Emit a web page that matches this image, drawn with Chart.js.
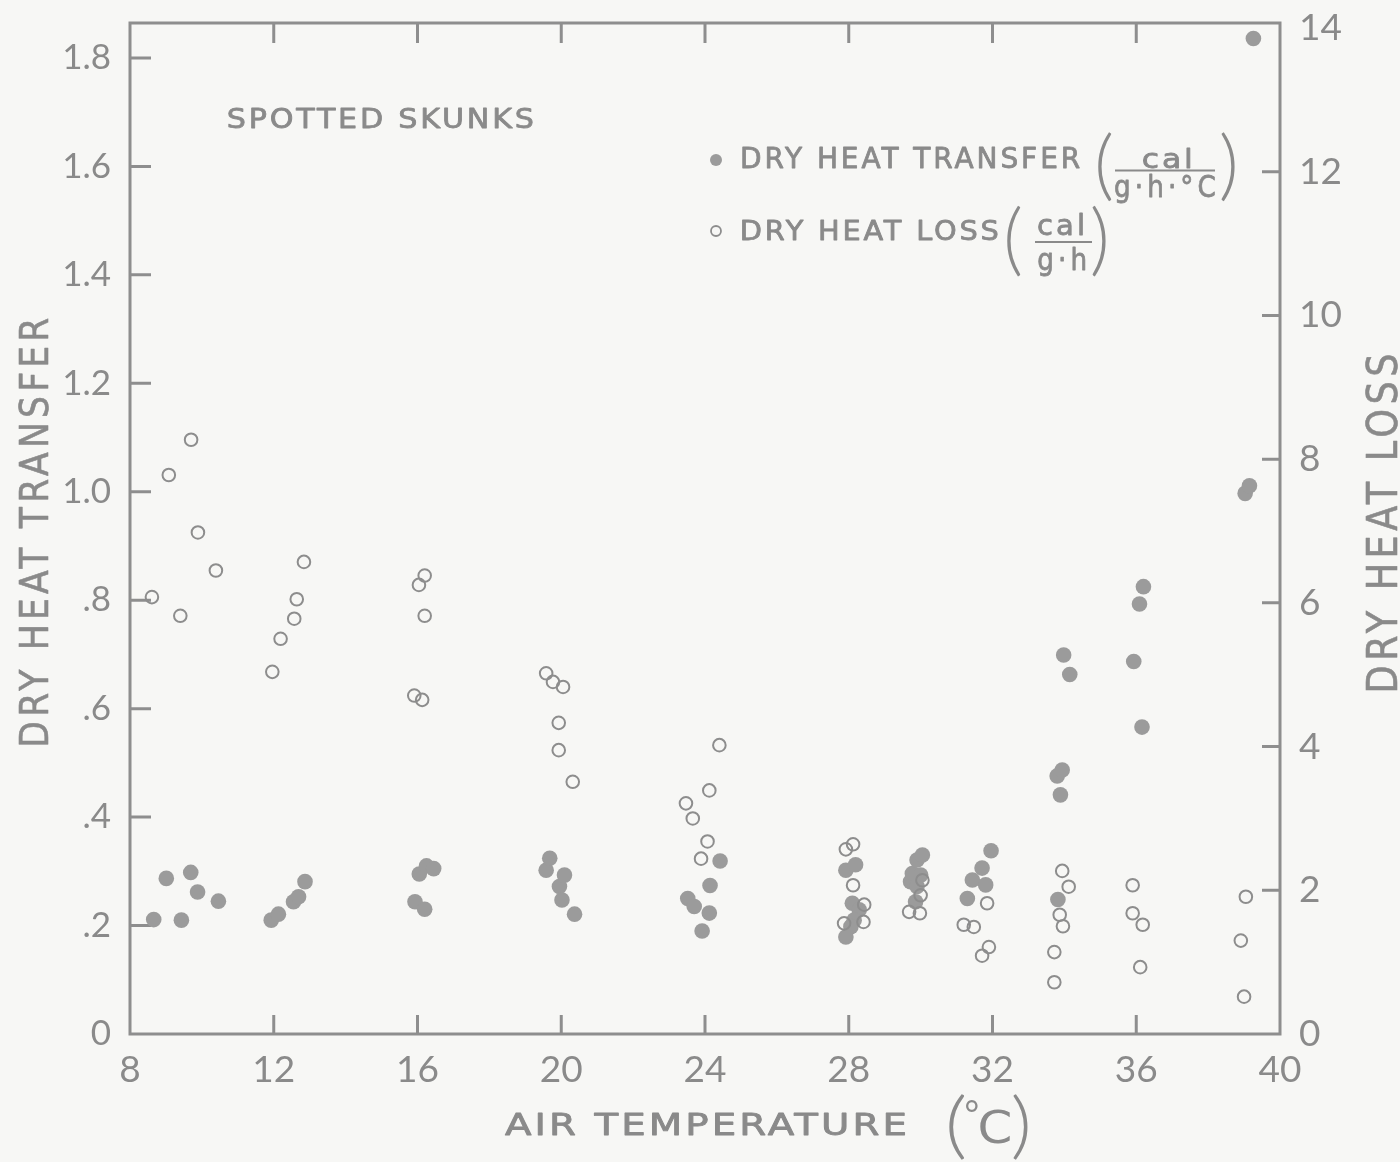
<!DOCTYPE html>
<html><head><meta charset="utf-8">
<script src="https://cdn.jsdelivr.net/npm/chart.js@4.4.1/dist/chart.umd.min.js"></script>
<style>html,body{margin:0;padding:0;background:#f7f7f5;}#wrap{width:1400px;height:1162px;position:relative;}</style>
</head><body><div id="wrap"><canvas id="c"></canvas></div>
<script>
// ---- data ----
const transferTemp = [8.66,9.01,9.43,9.69,9.88,10.46,11.93,12.13,12.55,12.69,12.87,15.93,16.2,16.05,16.25,16.45,
  19.58,19.68,19.95,20.02,20.09,20.37,23.52,23.7,23.92,24.12,24.14,24.42,27.92,28.19,28.1,28.29,28.15,28.06,27.92,
  29.72,29.77,29.86,29.9,29.9,30.0,30.05,31.3,31.44,31.71,31.81,31.96,33.8,33.82,33.89,33.94,33.98,34.15,
  35.93,36.09,36.16,36.2,39.03,39.15,39.26];
const transferValue = [0.211,0.287,0.210,0.298,0.262,0.245,0.210,0.221,0.244,0.253,0.281,0.244,0.230,0.295,0.310,0.305,
  0.302,0.324,0.272,0.247,0.293,0.221,0.250,0.235,0.190,0.223,0.274,0.319,0.302,0.312,0.241,0.229,0.210,0.198,0.179,
  0.281,0.296,0.244,0.272,0.321,0.293,0.330,0.250,0.284,0.306,0.275,0.338,0.476,0.248,0.441,0.487,0.699,0.663,
  0.687,0.793,0.566,0.825,0.997,1.011,1.836];
const lossTemp = [8.61,9.08,9.40,9.70,9.89,10.39,11.96,12.19,12.57,12.64,12.84,15.91,16.04,16.13,16.2,16.2,
  19.58,19.77,19.93,19.93,20.05,20.32,23.47,23.66,23.89,24.07,24.12,24.4,27.87,27.92,28.12,28.12,28.41,28.43,
  29.68,29.98,30.0,30.05,31.2,31.48,31.71,31.85,31.9,33.72,33.72,33.87,33.94,33.96,34.12,35.9,35.9,36.11,36.18,
  38.91,39.0,39.05];
const lossValue = [6.08,7.78,5.82,8.27,6.98,6.45,5.04,5.50,5.78,6.05,6.57,4.71,6.25,4.65,6.38,5.82,
  5.02,4.90,4.33,3.95,4.83,3.51,3.21,3.00,2.44,2.68,3.39,4.02,1.54,2.57,2.64,2.07,1.56,1.80,
  1.70,1.68,1.93,2.14,1.52,1.49,1.09,1.82,1.21,1.14,0.72,1.66,2.27,1.50,2.05,2.07,1.68,0.93,1.52,
  1.30,0.52,1.91];
const tempTicks = [8,12,16,20,24,28,32,36,40];
const transferTicks = [0,0.2,0.4,0.6,0.8,1.0,1.2,1.4,1.6,1.8];
const transferTickLabels = ['0','.2','.4','.6','.8','1.0','1.2','1.4','1.6','1.8'];
const lossTicks = [0,2,4,6,8,10,12,14];
const chartTitle = 'SPOTTED SKUNKS';
const xTitle = 'AIR TEMPERATURE';
const yTitle = 'DRY HEAT TRANSFER';
const y2Title = 'DRY HEAT LOSS';
const legendTransfer = 'DRY HEAT TRANSFER';
const legendLoss = 'DRY HEAT LOSS';

const FONT = 'Lato, "Open Sans", sans-serif';
const TFONT = '"DejaVu Sans", "Open Sans", sans-serif';
const TXT = '#8a8a8a', LINE = '#8e8e8e', DOT = '#9b9b9b', OPEN = '#8d8d8d';

function measureBox(ctx, text, weight, fam) {
  ctx.font = (weight || '') + ' 100px ' + (fam || TFONT);
  ctx.letterSpacing = '0px';
  return ctx.measureText(text);
}
// text with height fit to [yTop,yBottom]; width fit to [x0,x1] by a mild horizontal stretch plus tracking
function spacedBox(ctx, text, x0, x1, yTop, yBottom, weight, fam, thick) {
  fam = fam || TFONT;
  const m = measureBox(ctx, text, weight, fam);
  const h = m.actualBoundingBoxAscent + m.actualBoundingBoxDescent;
  const size = 100 * (yBottom - yTop) / h;
  ctx.font = (weight || '') + ' ' + size + 'px ' + fam;
  ctx.letterSpacing = '0px';
  const m2 = ctx.measureText(text);
  const w = m2.actualBoundingBoxLeft + m2.actualBoundingBoxRight;
  const n = Math.max(1, text.length - 1);
  const gap = 0.14 * (yBottom - yTop);
  let sx = (x1 - x0 - gap * n) / w;
  sx = Math.max(0.85, Math.min(1.4, sx));
  const ls = ((x1 - x0) / sx - w) / n;
  ctx.save();
  ctx.translate(x0, yTop + m2.actualBoundingBoxAscent);
  ctx.scale(sx, 1);
  ctx.letterSpacing = ls + 'px';
  ctx.textAlign = 'left';
  ctx.textBaseline = 'alphabetic';
  ctx.fillText(text, m2.actualBoundingBoxLeft, 0);
  ctx.strokeStyle = ctx.fillStyle;
  ctx.lineWidth = thick === undefined ? 0.8 : thick;
  ctx.lineJoin = 'round';
  if (ctx.lineWidth > 0) ctx.strokeText(text, m2.actualBoundingBoxLeft, 0);
  ctx.letterSpacing = '0px';
  ctx.restore();
}
// scale a short text to fill a box
function fitBox(ctx, text, x0, x1, yTop, yBottom, weight, fam) {
  const m = measureBox(ctx, text, weight, fam || FONT);
  const w = m.actualBoundingBoxLeft + m.actualBoundingBoxRight;
  const h = m.actualBoundingBoxAscent + m.actualBoundingBoxDescent;
  const sx = (x1 - x0) / w, sy = (yBottom - yTop) / h;
  ctx.save();
  ctx.translate(x0 + m.actualBoundingBoxLeft * sx, yTop + m.actualBoundingBoxAscent * sy);
  ctx.scale(sx, sy);
  ctx.textAlign = 'left'; ctx.textBaseline = 'alphabetic';
  ctx.fillText(text, 0, 0);
  ctx.restore();
}

const deco = {
  id: 'deco',
  beforeDatasetsDraw(chart) {
    const ctx = chart.ctx, a = chart.chartArea, sx = chart.scales.x, sy = chart.scales.y, sy2 = chart.scales.y2;
    ctx.save();
    ctx.strokeStyle = LINE; ctx.lineWidth = 3; ctx.lineCap = 'butt';
    ctx.strokeRect(a.left, a.top, a.right - a.left, a.bottom - a.top);
    ctx.beginPath();
    tempTicks.slice(1, -1).forEach(v => {
      const px = sx.getPixelForValue(v);
      ctx.moveTo(px, a.bottom); ctx.lineTo(px, a.bottom - 19);
      ctx.moveTo(px, a.top); ctx.lineTo(px, a.top + 20);
    });
    transferTicks.slice(1).forEach(v => {
      const py = sy.getPixelForValue(v);
      ctx.moveTo(a.left, py); ctx.lineTo(a.left + 21, py);
    });
    lossTicks.slice(1, -1).forEach(v => {
      const py = sy2.getPixelForValue(v);
      ctx.moveTo(a.right, py); ctx.lineTo(a.right - 18, py);
    });
    ctx.stroke();
    ctx.restore();
  },
  afterDraw(chart) {
    const ctx = chart.ctx;
    ctx.save();
    ctx.fillStyle = TXT;
    spacedBox(ctx, chartTitle, 228, 533, 108, 128);
    // legend
    ctx.beginPath(); ctx.arc(716, 160, 6, 0, Math.PI * 2); ctx.fillStyle = DOT; ctx.fill();
    ctx.beginPath(); ctx.arc(716, 231, 5, 0, Math.PI * 2); ctx.strokeStyle = OPEN; ctx.lineWidth = 1.8; ctx.stroke();
    ctx.fillStyle = TXT;
    spacedBox(ctx, legendTransfer, 742, 1080, 147, 168);
    spacedBox(ctx, legendLoss, 742, 998, 220, 240);
    fitBox(ctx, '(', 1098, 1112, 132, 202, '300');
    spacedBox(ctx, 'cal', 1143, 1190, 148, 168);
    spacedBox(ctx, 'g·h·°C', 1115, 1215, 174, 203);
    fitBox(ctx, ')', 1221, 1235, 132, 202, '300');
    ctx.fillRect(1115, 169.5, 100, 2);
    fitBox(ctx, '(', 1007, 1021, 205, 277, '300');
    spacedBox(ctx, 'cal', 1038, 1083, 213, 235);
    spacedBox(ctx, 'g·h', 1038, 1085, 247, 277);
    fitBox(ctx, ')', 1092, 1106, 205, 277, '300');
    ctx.fillRect(1035, 241, 57, 2);
    // x title
    spacedBox(ctx, xTitle, 505, 905, 1113, 1135);
    fitBox(ctx, '(', 949, 965, 1094, 1160, '300');
    fitBox(ctx, '°', 966, 978, 1100, 1112);
    fitBox(ctx, 'C', 980, 1010, 1109, 1143, '', TFONT);
    fitBox(ctx, ')', 1013, 1028, 1093, 1160, '300');
    // y titles (rotated, reading bottom to top); after rotate(-90) local y == screen x
    ctx.save();
    ctx.translate(0, 745); ctx.rotate(-Math.PI / 2);
    spacedBox(ctx, yTitle, 0, 745 - 318, 18, 48, '', TFONT, 0.6);
    ctx.restore();
    ctx.save();
    ctx.translate(0, 690); ctx.rotate(-Math.PI / 2);
    spacedBox(ctx, y2Title, 0, 690 - 355, 1365, 1397, '', TFONT, 0.6);
    ctx.restore();
    ctx.restore();
  }
};

const transferPts = transferTemp.map((t, i) => ({ x: t, y: transferValue[i] }));
const lossPts = lossTemp.map((t, i) => ({ x: t, y: lossValue[i] }));

new Chart(document.getElementById('c'), {
  type: 'scatter',
  data: {
    datasets: [
      { label: legendLoss, data: lossPts, yAxisID: 'y2', pointRadius: 6.3, pointHoverRadius: 6.3,
        backgroundColor: 'rgba(0,0,0,0)', borderColor: OPEN, borderWidth: 2, clip: false },
      { label: legendTransfer, data: transferPts, yAxisID: 'y', pointRadius: 7.8, pointHoverRadius: 7.8,
        backgroundColor: DOT, borderColor: DOT, borderWidth: 0, clip: false }
    ]
  },
  options: {
    responsive: true, maintainAspectRatio: false, animation: false,
    layout: { padding: { top: 23, left: 0, right: 0, bottom: 0 } },
    plugins: { legend: { display: false }, tooltip: { enabled: false } },
    scales: {
      x: {
        type: 'linear', min: 8, max: 40,
        afterBuildTicks: s => { s.ticks = tempTicks.map(v => ({ value: v })); },
        afterFit: s => { s.height = 128; s.paddingLeft = 0; s.paddingRight = 0; },
        grid: { display: false, drawTicks: false }, border: { display: false },
        ticks: { color: TXT, font: { family: FONT, size: 37 }, padding: 14, maxRotation: 0, autoSkip: false,
          callback: v => String(v) }
      },
      y: {
        position: 'left', min: 0, max: 1.8645,
        afterBuildTicks: s => { s.ticks = transferTicks.map(v => ({ value: v })); },
        afterFit: s => { s.width = 130; s.paddingTop = 0; s.paddingBottom = 0; },
        grid: { display: false, drawTicks: false }, border: { display: false },
        ticks: { color: TXT, font: { family: FONT, size: 35 }, padding: 19, autoSkip: false,
          callback: (v, i) => transferTickLabels[i] }
      },
      y2: {
        position: 'right', min: 0, max: 14.07,
        afterBuildTicks: s => { s.ticks = lossTicks.map(v => ({ value: v })); },
        afterFit: s => { s.width = 120; s.paddingTop = 0; s.paddingBottom = 0; },
        grid: { display: false, drawTicks: false }, border: { display: false },
        ticks: { color: TXT, font: { family: FONT, size: 37 }, padding: 19, autoSkip: false,
          callback: v => String(v) }
      }
    }
  },
  plugins: [deco]
});
</script></body></html>
